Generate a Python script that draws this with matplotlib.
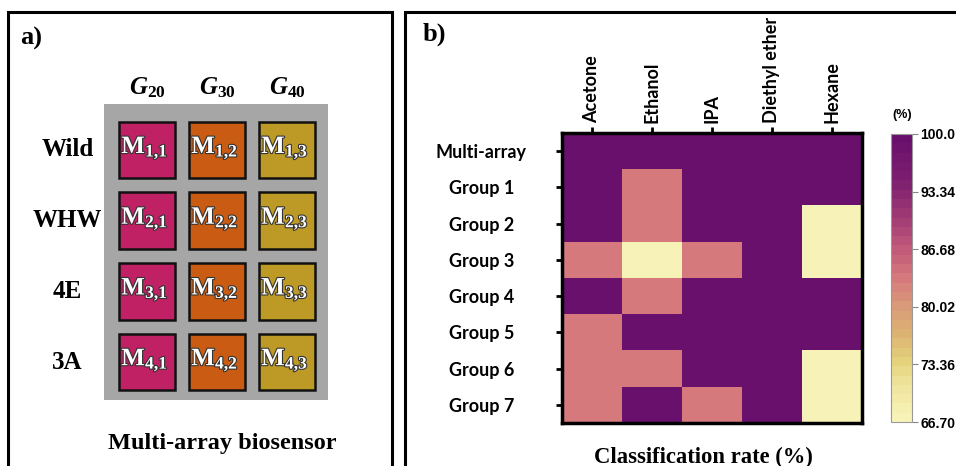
import matplotlib
matplotlib.use("Agg")
import matplotlib.pyplot as plt
import matplotlib.patheffects as pe
import numpy as np
from matplotlib.colors import LinearSegmentedColormap
from matplotlib.patches import Rectangle

# panel a: sensor layout
strains = ["Wild", "WHW", "4E", "3A"]
gens = [r"$G_{\mathit{20}}$", r"$G_{\mathit{30}}$", r"$G_{\mathit{40}}$"]
gen_colors = ["#c02064", "#c95c12", "#bd9a26"]

# panel b: classification rate (%)
solvents = ["Acetone", "Ethanol", "IPA", "Diethyl ether", "Hexane"]
groups = ["Multi-array", "Group 1", "Group 2", "Group 3",
          "Group 4", "Group 5", "Group 6", "Group 7"]
acetone = [100, 100, 100, 83.3, 100, 83.3, 83.3, 83.3]
ethanol = [100, 83.3, 83.3, 66.7, 83.3, 100, 83.3, 100]
ipa = [100, 100, 100, 83.3, 100, 100, 100, 83.3]
diethyl_ether = [100, 100, 100, 100, 100, 100, 100, 100]
hexane = [100, 100, 66.7, 66.7, 100, 100, 66.7, 66.7]
cbar_ticks = [100.0, 93.34, 86.68, 80.02, 73.36, 66.70]

plt.rcParams["mathtext.fontset"] = "custom"
plt.rcParams["mathtext.rm"] = "Liberation Serif:bold"
plt.rcParams["mathtext.bf"] = "Liberation Serif:bold"
plt.rcParams["mathtext.it"] = "Liberation Serif:bold:italic"

W, H = 956, 466
fig = plt.figure(figsize=(W / 100, H / 100), dpi=100)


def px(x0, y0, x1, y1):
    return [x0 / W, 1 - y1 / H, (x1 - x0) / W, (y1 - y0) / H]


serif = dict(family="Liberation Serif", weight="bold")

# frames around the two panels
for x0, x1 in [(8, 392), (405, 962)]:
    fig.add_artist(Rectangle((x0 / W, -0.05), (x1 - x0) / W, 1 - 12 / H + 0.05,
                             transform=fig.transFigure, fill=False,
                             lw=2.2, ec="black"))
fig.text(20 / W, 1 - 38 / H, "a)", fontsize=19, ha="left", va="center", **serif)
fig.text(423 / W, 1 - 34 / H, "b)", fontsize=19, ha="left", va="center", **serif)

# ---- panel a ----
ax_a = fig.add_axes(px(104, 104, 328, 400))
ax_a.set_facecolor("#a6a6a6")
ax_a.set_xlim(-0.621, 2.579)
ax_a.set_ylim(3.536, -0.65)
ax_a.set_xticks([])
ax_a.set_yticks([])
for s in ax_a.spines.values():
    s.set_visible(False)

for i, strain in enumerate(strains):
    ax_a.text(-1.14, i, strain, ha="center", va="center", fontsize=18,
              clip_on=False, **serif)
    for j, c in enumerate(gen_colors):
        ax_a.add_patch(Rectangle((j - 0.4, i - 0.4), 0.8, 0.8, fc=c,
                                 ec="#111111", lw=1.8))
        t = ax_a.text(j - 0.04, i - 0.03,
                      r"$\mathrm{M}_{%d{,}%d}$" % (i + 1, j + 1),
                      ha="center", va="center", fontsize=18, color="white")
        t.set_path_effects([pe.withStroke(linewidth=1.6, foreground="#333333")])

for j, g in enumerate(gens):
    ax_a.text(j, -0.877, g, ha="center", va="center", fontsize=18, clip_on=False)

fig.text(222 / W, 1 - 443 / H, "Multi-array biosensor", ha="center",
         va="center", fontsize=17.5, **serif)

# ---- panel b ----
cmap = LinearSegmentedColormap.from_list("rate", [
    (0.0, "#f7f3b8"), (0.12, "#efe39c"), (0.2, "#e4d37c"), (0.3, "#dcb273"),
    (0.4, "#d99a79"), (0.5, "#d5797d"), (0.6, "#c25a79"), (0.72, "#a03a75"),
    (0.85, "#7d1e70"), (1.0, "#69106d")]).resampled(31)

rates = np.column_stack([acetone, ethanol, ipa, diethyl_ether, hexane])
ax_b = fig.add_axes(px(562, 133, 862, 423))
im = ax_b.imshow(rates, cmap=cmap, vmin=66.7, vmax=100.0, aspect="auto",
                 interpolation="nearest")

tick_font = dict(family="Lato", weight="bold", size=13)
ax_b.xaxis.tick_top()
ax_b.set_xticks(range(len(solvents)))
ax_b.set_xticklabels(solvents, rotation=90, fontdict=tick_font)
ax_b.set_yticks(range(len(groups)))
ax_b.set_yticklabels(groups, fontdict=tick_font, ha="center")
ax_b.tick_params(axis="x", length=4, width=2, pad=3)
ax_b.tick_params(axis="y", length=4, width=2, pad=54)
for s in ax_b.spines.values():
    s.set_linewidth(2.5)

fig.text(703 / W, 1 - 457 / H, "Classification rate (%)", ha="center",
         va="center", fontsize=16.3, **serif)

cax = fig.add_axes(px(891, 134, 912, 422))
cb = fig.colorbar(im, cax=cax, ticks=cbar_ticks)
cb.outline.set_edgecolor("#999999")
cb.outline.set_linewidth(0.8)
cb.ax.set_yticklabels(["%.2f" % v if v < 100 else "%.1f" % v for v in cbar_ticks],
                      family="Liberation Sans", weight="bold", size=10)
cb.ax.tick_params(length=4, width=0.8, color="#888888", pad=2)
fig.text(902 / W, 1 - 115 / H, "(%)", ha="center", va="center", fontsize=9,
         family="Liberation Sans", weight="bold")

fig.savefig("out.png", dpi=100)
